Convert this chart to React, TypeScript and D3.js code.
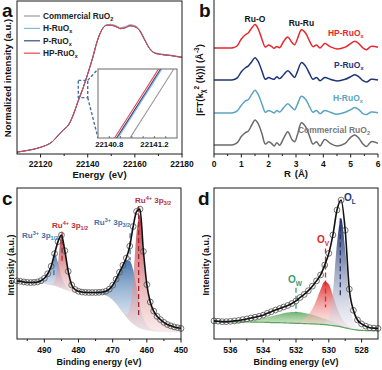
import React from 'react'
import * as d3 from 'd3'

const FONT = '"Liberation Sans", Arial, Helvetica, sans-serif'

// ---------- (a) Ru K-edge XANES ----------
const xanesE = [22110, 22115, 22120, 22125, 22128, 22130, 22132, 22134, 22136, 22138, 22140, 22142, 22144, 22146, 22148, 22150, 22152, 22154, 22156, 22158, 22160, 22162, 22164, 22166, 22168, 22170, 22175, 22180]
const xanesCommercial = [0.02, 0.04, 0.07, 0.128, 0.207, 0.257, 0.306, 0.411, 0.551, 0.681, 0.8297, 0.989, 1.17, 1.296, 1.352, 1.356, 1.342, 1.322, 1.332, 1.352, 1.342, 1.302, 1.21, 1.118, 1.066, 1.05, 1.035, 1.014]
const xanesH = [0.02, 0.04, 0.07, 0.13, 0.21, 0.26, 0.31, 0.418, 0.558, 0.6878, 0.8377, 0.9975, 1.1778, 1.2992, 1.347, 1.347, 1.332, 1.312, 1.322, 1.342, 1.332, 1.292, 1.202, 1.112, 1.062, 1.046, 1.031, 1.011]
const xanesP = [0.02, 0.04, 0.07, 0.13, 0.21, 0.26, 0.31, 0.419, 0.559, 0.6887, 0.8386, 0.9985, 1.1786, 1.2995, 1.346, 1.346, 1.331, 1.311, 1.321, 1.341, 1.331, 1.29, 1.2, 1.11, 1.06, 1.045, 1.03, 1.01]
const xanesHP = [0.02, 0.04, 0.07, 0.13, 0.21, 0.26, 0.31, 0.42, 0.56, 0.69, 0.84, 1.0, 1.18, 1.3, 1.345, 1.345, 1.33, 1.31, 1.32, 1.34, 1.33, 1.29, 1.2, 1.11, 1.06, 1.045, 1.03, 1.01]
const xanesTicks = [22120, 22140, 22160, 22180]
const xanesMinor = [22130, 22150, 22170]
const insetTicks = [22140.8, 22141.2]
const insetDomainE = [22140.7, 22141.4]
const insetDomainI = [0.906, 0.937]
const zoomBoxE = [22136, 22140]
const zoomBoxI = [0.59, 0.77]

// ---------- (b) EXAFS R space ----------
const exafsR = [0, 0.4, 0.7, 0.85, 1.0, 1.15, 1.25, 1.38, 1.5, 1.62, 1.75, 1.88, 2.0, 2.1, 2.2, 2.3, 2.4, 2.55, 2.7, 2.85, 2.95, 3.05, 3.2, 3.35, 3.5, 3.62, 3.75, 3.88, 4.05, 4.25, 4.5, 4.8, 5.0, 5.15, 5.3, 5.45, 5.58, 5.75, 6.0]
const ftCommercial = [0.1, 0.1, 0.11, 0.2, 0.46, 0.63, 0.69, 0.96, 1.18, 1.01, 0.6, 0.14, 0.24, 0.17, 0.06, 0.2, 0.09, 0.39, 0.67, 0.34, 0.24, 0.53, 1.06, 0.89, 0.46, 0.14, 0.24, 0.06, 0.34, 0.17, 0.06, 0.17, 0.43, 0.53, 0.39, 0.14, 0.03, 0.24, 0.17]
const ftH = [0.1, 0.1, 0.11, 0.19, 0.43, 0.62, 0.67, 0.9, 1.08, 0.89, 0.5, 0.13, 0.21, 0.16, 0.1, 0.21, 0.14, 0.33, 0.5, 0.33, 0.24, 0.47, 0.82, 0.69, 0.36, 0.13, 0.21, 0.07, 0.21, 0.13, 0.04, 0.13, 0.24, 0.33, 0.24, 0.07, 0.03, 0.14, 0.11]
const ftP = [0.1, 0.1, 0.11, 0.19, 0.46, 0.63, 0.7, 0.89, 1.06, 0.89, 0.5, 0.13, 0.21, 0.16, 0.13, 0.24, 0.16, 0.33, 0.5, 0.33, 0.21, 0.46, 0.85, 0.7, 0.36, 0.13, 0.21, 0.07, 0.21, 0.13, 0.06, 0.13, 0.24, 0.33, 0.24, 0.07, 0.01, 0.13, 0.1]
const ftHP = [0.1, 0.1, 0.11, 0.2, 0.49, 0.67, 0.75, 0.96, 1.11, 0.92, 0.49, 0.14, 0.23, 0.17, 0.09, 0.16, 0.11, 0.39, 0.57, 0.34, 0.24, 0.49, 0.89, 0.75, 0.39, 0.16, 0.23, 0.1, 0.29, 0.16, 0.06, 0.14, 0.29, 0.39, 0.29, 0.1, 0.03, 0.17, 0.13]
const ftOffsets = [0, 1.38, 2.8, 4.18]
const rTicks = [0, 1, 2, 3, 4, 5, 6]
const rMinor = [0.5, 1.5, 2.5, 3.5, 4.5, 5.5]

// ---------- (c) Ru 3p XPS, 1 eV steps from 498 eV ----------
const cStart = 498
const cCounts = [38.5, 38.2, 37.8, 37.5, 37.4, 37.5, 37.8, 38.6, 40.2, 43.2, 48.2, 56.5, 64.5, 68.8, 58.5, 44.8, 35.8, 32.8, 31.6, 31.1, 30.9, 30.8, 30.8, 30.8, 30.9, 31.1, 31.6, 33.0, 35.6, 39.6, 44.2, 48.8, 53.6, 61.5, 74.5, 84.5, 86.0, 58.0, 36.0, 24.5, 18.5, 15.0, 12.8, 11.0, 9.6, 8.7, 8.0, 7.5, 7.0]
const cBackground = [37.8, 37.6, 37.4, 37.2, 37.0, 36.9, 36.8, 36.6, 36.4, 36.1, 35.7, 35.2, 34.5, 33.6, 32.7, 31.9, 31.3, 30.9, 30.7, 30.5, 30.4, 30.3, 30.2, 30.1, 29.9, 29.5, 28.8, 27.6, 25.8, 23.4, 20.6, 17.6, 14.6, 12.0, 9.9, 8.3, 7.1, 6.3, 5.8, 5.4, 5.2, 5.0, 4.8, 4.7, 4.6, 4.5, 4.5, 4.4, 4.4]
const ru3p12 = { from: 494, h: [0.3, 0.8, 1.5, 2.6, 4.2, 7.5, 12.5, 21.5, 16, 8, 3.5, 1.2, 0.4, 0.1, 0] }
const ru4p12 = { from: 489, h: [0, 0.5, 3, 16, 35, 26, 13, 4.5, 1.8, 0.7, 0.3, 0.1, 0] }
const ru3p32 = { from: 476, h: [0, 0.4, 0.9, 1.6, 2.8, 5.4, 9.8, 16, 23.5, 31, 37.5, 39.7, 36, 26, 15, 7.5, 3.4, 1.5, 0.7, 0.3, 0.1, 0] }
const ru4p32 = { from: 469, h: [0, 0.3, 0.8, 1.5, 8, 30, 62, 75, 48, 28, 18, 13, 10, 8, 6.3, 5, 4.2, 3.5, 3.0, 2.6] }
const cTicks = [490, 480, 470, 460, 450]
const cMinor = [495, 485, 475, 465, 455]
const cMarkers = [
  { e: 487.2, top: 45.5, bottom: 41, color: '#3f73ad' },
  { e: 484.8, top: 71, bottom: 51, color: '#b8303a' },
  { e: 464.9, top: 70, bottom: 52, color: '#3f73ad' },
  { e: 462.4, top: 88, bottom: 14, color: '#a8222c' },
]

// ---------- (d) O 1s XPS, 0.25 eV steps from 537 eV ----------
const dStart = 537
const dCounts = [12.0, 11.8, 11.5, 11.5, 11.7, 12.0, 12.3, 12.8, 13.3, 13.9, 14.4, 15.0, 15.8, 17.0, 18.1, 19.2, 20.2, 21.2, 22.2, 23.5, 25.2, 27.5, 29.5, 32.0, 35.0, 38.5, 42.4, 49.0, 56.7, 68.9, 85.4, 92.0, 72.0, 33.0, 19.0, 12.6, 10.0, 8.5, 7.5, 7.2, 7.0]
const dBackground = [11.5, 11.5, 11.4, 11.4, 11.4, 11.4, 11.3, 11.3, 11.3, 11.2, 11.2, 11.1, 11.1, 11.0, 10.9, 10.9, 10.8, 10.7, 10.6, 10.5, 10.4, 10.3, 10.2, 10.1, 10.0, 9.9, 9.7, 9.5, 9.2, 8.9, 8.5, 8.0, 7.4, 6.8, 6.3, 5.9, 5.7, 5.6, 5.5, 5.5, 5.5]
const oW = { from: 536, h: [0, 0.1, 0.3, 0.5, 0.8, 1.1, 1.6, 2.1, 2.7, 3.4, 4.1, 4.9, 5.6, 6.3, 6.9, 7.3, 7.5, 7.4, 7.1, 6.6, 6.0, 5.3, 4.6, 3.9, 3.2, 2.5, 1.9, 1.4, 1.0, 0.7, 0.4, 0.3, 0.2, 0.1, 0] }
const oV = { from: 532.75, h: [0, 0.2, 0.4, 0.8, 1.5, 3, 6, 10, 16, 23, 28.5, 27, 20, 12, 6.5, 3.3, 1.6, 0.8, 0.4, 0.2, 0] }
const oL = { from: 530.75, h: [0, 0.5, 1.5, 5, 22, 55, 72, 52, 20, 6, 2, 0.8, 0.3, 0.1, 0] }
const dTicks = [536, 534, 532, 530, 528]
const dMinor = [535, 533, 531, 529]
const dMarkers = [
  { e: 529.3, top: 80, bottom: 29, color: '#23367a' },
  { e: 530.2, top: 60, bottom: 21, color: '#e0262b' },
  { e: 532.0, top: 34, bottom: 17, color: '#3c9c72' },
]

const AX = '#1a1a1a'

function BottomTicks({ scale, y, major, minor, fmt, fs = 8.5, labelY }: any) {
  return (
    <g>
      {minor.map((v: number) => (
        <line key={'m' + v} x1={scale(v)} x2={scale(v)} y1={y} y2={y + 2} stroke={AX} strokeWidth={1} />
      ))}
      {major.map((v: number) => (
        <g key={v}>
          <line x1={scale(v)} x2={scale(v)} y1={y} y2={y + 3.5} stroke={AX} strokeWidth={1} />
          <text x={scale(v)} y={labelY} textAnchor="middle" fontSize={fs} fontWeight="bold" fill="#111">
            {fmt(v)}
          </text>
        </g>
      ))}
    </g>
  )
}

function PanelA() {
  const x = d3.scaleLinear().domain([22110, 22180]).range([17, 182])
  const y = d3.scaleLinear().domain([0, 1.6]).range([154, 1])
  const ix = d3.scaleLinear().domain(insetDomainE).range([98, 177])
  const iy = d3.scaleLinear().domain(insetDomainI).range([138, 69])
  const series = [
    { name: 'Commercial RuO', sub: '2', values: xanesCommercial, color: '#9c9c9c' },
    { name: 'H-RuO', sub: 'x', values: xanesH, color: '#84bbd4' },
    { name: 'P-RuO', sub: 'x', values: xanesP, color: '#34478a' },
    { name: 'HP-RuO', sub: 'x', values: xanesHP, color: '#e8474c' },
  ]
  const line = (sx: any, sy: any) =>
    d3.line<number>().x((_, i) => sx(xanesE[i])).y((d) => sy(d)).curve(d3.curveMonotoneX)
  const boxX0 = x(zoomBoxE[0]), boxX1 = x(zoomBoxE[1])
  const boxY0 = y(zoomBoxI[1]), boxY1 = y(zoomBoxI[0])
  const [ix0, ix1] = ix.range()
  const [iy1, iy0] = iy.range()
  return (
    <g>
      <defs>
        <clipPath id="insetClip">
          <rect x={ix0} y={iy0} width={ix1 - ix0} height={iy1 - iy0} />
        </clipPath>
        <clipPath id="aClip">
          <rect x={17} y={1} width={165} height={153} />
        </clipPath>
      </defs>
      <g clipPath="url(#aClip)">
        {series.map((s) => (
          <path key={s.name} d={line(x, y)(s.values) || ''} fill="none" stroke={s.color} strokeWidth={1} />
        ))}
      </g>
      <rect x={17} y={1} width={165} height={153} fill="none" stroke={AX} strokeWidth={1} />
      <BottomTicks scale={x} y={154} major={xanesTicks} minor={xanesMinor} fmt={(v: number) => v} fs={8.5} labelY={167} />
      {/* zoom box and connectors */}
      <rect x={boxX0} y={boxY0} width={boxX1 - boxX0} height={boxY1 - boxY0} fill="none" stroke="#4a6fa8" strokeWidth={1.4} strokeDasharray="3,2" />
      <line x1={boxX1} y1={boxY0} x2={ix0} y2={iy0} stroke="#4a6fa8" strokeWidth={1.4} strokeDasharray="3,2" />
      <line x1={boxX1} y1={boxY1} x2={ix0} y2={iy1} stroke="#4a6fa8" strokeWidth={1.4} strokeDasharray="3,2" />
      {/* inset */}
      <rect x={ix0} y={iy0} width={ix1 - ix0} height={iy1 - iy0} fill="#fff" stroke="#6b6b6b" strokeWidth={1} />
      <g clipPath="url(#insetClip)">
        {series.map((s) => (
          <path key={s.name} d={line(ix, iy)(s.values) || ''} fill="none" stroke={s.color} strokeWidth={1.1} />
        ))}
      </g>
      {d3.range(22140.8, 22141.35, 0.1).map((v) => (
        <line key={v} x1={ix(v)} x2={ix(v)} y1={iy1} y2={iy1 - 2} stroke="#555" strokeWidth={0.8} />
      ))}
      {insetTicks.map((v) => (
        <text key={v} x={ix(v)} y={147} textAnchor="middle" fontSize={7.8} fontWeight="bold" fill="#111">
          {v.toFixed(1)}
        </text>
      ))}
      {/* legend */}
      {series.map((s, i) => (
        <g key={s.name} transform={`translate(0,${16 + i * 12.4})`}>
          <line x1={24} x2={40} y1={0} y2={0} stroke={s.color} strokeWidth={1.2} />
          <text x={43} y={3} fontSize={8.3} fontWeight="bold" fill="#222">
            {s.name}
            <tspan dy={2} fontSize={5.5}>{s.sub}</tspan>
          </text>
        </g>
      ))}
      <text x={2} y={17} fontSize={19} fontWeight="bold" fill="#111">a</text>
      <text transform="translate(11,78) rotate(-90)" textAnchor="middle" fontSize={9.5} fontWeight="bold" fill="#111">
        Normalized intensity (a.u.)
      </text>
      <text x={99.5} y={178} textAnchor="middle" fontSize={9.5} fontWeight="bold" fill="#111">
        Energy<tspan dx={4}>(eV)</tspan>
      </text>
    </g>
  )
}

function PanelB() {
  const x = d3.scaleLinear().domain([0, 6]).range([214, 378])
  const y = d3.scaleLinear().domain([-0.29, 6.35]).range([154, 0])
  const series = [
    { name: 'Commercial RuO', sub: '2', values: ftCommercial, color: '#6b6b6b', label: '#7a7a7a', lx: 3.07 },
    { name: 'H-RuO', sub: 'x', values: ftH, color: '#5aa4c4', label: '#5aa4c4', lx: 4.35 },
    { name: 'P-RuO', sub: 'x', values: ftP, color: '#1f3579', label: '#1f3579', lx: 4.39 },
    { name: 'HP-RuO', sub: 'x', values: ftHP, color: '#e8262b', label: '#e8262b', lx: 4.17 },
  ]
  return (
    <g>
      {series.map((s, k) => {
        const line = d3
          .line<number>()
          .x((_, i) => x(exafsR[i]))
          .y((d) => y(d + ftOffsets[k]))
          .curve(d3.curveCatmullRom.alpha(0.5))
        return (
          <g key={s.name}>
            <path d={line(s.values) || ''} fill="none" stroke={s.color} strokeWidth={1.5} />
            <text x={x(s.lx)} y={y(ftOffsets[k] + 0.6)} fontSize={8.5} fontWeight="bold" fill={s.label}>
              {s.name}
              <tspan dy={2} fontSize={5.5}>{s.sub}</tspan>
            </text>
          </g>
        )
      })}
      <line x1={214} x2={214} y1={0} y2={154} stroke={AX} strokeWidth={1} />
      <line x1={214} x2={378} y1={154} y2={154} stroke={AX} strokeWidth={1} />
      <BottomTicks scale={x} y={154} major={rTicks} minor={rMinor} fmt={(v: number) => v} fs={8.5} labelY={167} />
      <text x={x(1.5)} y={y(5.4)} textAnchor="middle" fontSize={8.5} fontWeight="bold" fill="#111">Ru-O</text>
      <text x={x(3.2)} y={y(5.23)} textAnchor="middle" fontSize={8.5} fontWeight="bold" fill="#111">Ru-Ru</text>
      <text x={199} y={17} fontSize={19} fontWeight="bold" fill="#111">b</text>
      <text transform="translate(203,80) rotate(-90)" textAnchor="middle" fontSize={9.5} fontWeight="bold" fill="#111">
        |FT(k<tspan dy={2} fontSize={6.5}>χ</tspan><tspan dy={-6} fontSize={6.5}>2</tspan><tspan dy={4}> (k))| (Å</tspan>
        <tspan dy={-4} fontSize={6.5}>-3</tspan><tspan dy={4}>)</tspan>
      </text>
      <text x={296} y={177} textAnchor="middle" fontSize={9.5} fontWeight="bold" fill="#111">
        R<tspan dx={4}>(Å)</tspan>
      </text>
    </g>
  )
}

function XpsComponents({ x, y, comps, bgAt, step }: any) {
  return comps.map((c: any) => {
    const pts = c.h.map((h: number, i: number) => {
      const e = c.from - i * step
      return { e, b: bgAt(e), h }
    })
    const area = d3
      .area<any>()
      .x((p) => x(p.e))
      .y0((p) => y(p.b))
      .y1((p) => y(p.b + p.h))
      .curve(d3.curveMonotoneX)
    return <path key={c.id} d={area(pts) || ''} fill={`url(#${c.grad})`} stroke="none" />
  })
}

function PanelC() {
  const x = d3.scaleLinear().domain([498, 450]).range([17, 181])
  const y = d3.scaleLinear().domain([0, 100]).range([339, 188])
  const energies = cCounts.map((_, i) => cStart - i)
  const bgAt = (e: number) => cBackground[Math.round(cStart - e)]
  const fit = d3.line<number>().x((_, i) => x(energies[i])).y((d) => y(d)).curve(d3.curveMonotoneX)
  const comps = [
    { id: 'b12', ...ru3p12, grad: 'gBlueC' },
    { id: 'r12', ...ru4p12, grad: 'gRedC' },
    { id: 'b32', ...ru3p32, grad: 'gBlueC' },
    { id: 'r32', ...ru4p32, grad: 'gRedC' },
  ]
  return (
    <g>
      <XpsComponents x={x} y={y} comps={comps} bgAt={bgAt} step={1} />
      {cMarkers.map((m, i) => (
        <line key={i} x1={x(m.e)} x2={x(m.e)} y1={y(m.top)} y2={y(m.bottom)} stroke={m.color} strokeWidth={1.3} strokeDasharray="5,3" />
      ))}
      {cCounts.map((d, i) => (
        <circle key={i} cx={x(energies[i])} cy={y(d)} r={2.9} fill="none" stroke="#5a5a5a" strokeWidth={0.85} />
      ))}
      <path d={fit(cCounts) || ''} fill="none" stroke="#111" strokeWidth={1.6} />
      <rect x={17} y={188} width={164} height={151} fill="none" stroke={AX} strokeWidth={1} />
      <BottomTicks scale={x} y={339} major={cTicks} minor={cMinor} fmt={(v: number) => v} fs={8.5} labelY={353} />
      <text x={22} y={238} fontSize={8} fontWeight="bold" fill="#3f73ad">
        Ru<tspan dy={-3} fontSize={5.5}>3+</tspan><tspan dy={3}> 3p</tspan><tspan dy={2} fontSize={5.5}>1/2</tspan>
      </text>
      <text x={52} y={228} fontSize={8} fontWeight="bold" fill="#b8303a">
        Ru<tspan dy={-3} fontSize={5.5}>4+</tspan><tspan dy={3}> 3p</tspan><tspan dy={2} fontSize={5.5}>1/2</tspan>
      </text>
      <text x={94} y={225} fontSize={8} fontWeight="bold" fill="#3f73ad">
        Ru<tspan dy={-3} fontSize={5.5}>3+</tspan><tspan dy={3}> 3p</tspan><tspan dy={2} fontSize={5.5}>3/2</tspan>
      </text>
      <text x={135} y={203} fontSize={8} fontWeight="bold" fill="#b8303a">
        Ru<tspan dy={-3} fontSize={5.5}>4+</tspan><tspan dy={3}> 3p</tspan><tspan dy={2} fontSize={5.5}>3/2</tspan>
      </text>
      <text x={2} y={205} fontSize={19} fontWeight="bold" fill="#111">c</text>
      <text transform="translate(14,265) rotate(-90)" textAnchor="middle" fontSize={9} fontWeight="bold" fill="#111">
        Intensity (a.u.)
      </text>
      <text x={99} y={365} textAnchor="middle" fontSize={9} fontWeight="bold" fill="#111">
        Binding energy (eV)
      </text>
    </g>
  )
}

function PanelD() {
  const x = d3.scaleLinear().domain([537, 527]).range([214, 378])
  const y = d3.scaleLinear().domain([0, 100]).range([339, 188])
  const energies = dCounts.map((_, i) => dStart - i * 0.25)
  const bgAt = (e: number) => dBackground[Math.round((dStart - e) / 0.25)]
  const line = d3.line<number>().x((_, i) => x(energies[i])).y((d) => y(d)).curve(d3.curveMonotoneX)
  const comps = [
    { id: 'w', ...oW, grad: 'gGreenD' },
    { id: 'v', ...oV, grad: 'gRedD' },
    { id: 'l', ...oL, grad: 'gNavyD' },
  ]
  return (
    <g>
      <XpsComponents x={x} y={y} comps={comps} bgAt={bgAt} step={0.25} />
      <path d={line(dBackground) || ''} fill="none" stroke="#5aa35f" strokeWidth={1.2} />
      {dMarkers.map((m, i) => (
        <line key={i} x1={x(m.e)} x2={x(m.e)} y1={y(m.top)} y2={y(m.bottom)} stroke={m.color} strokeWidth={1.3} strokeDasharray="5,3" />
      ))}
      {dCounts.map((d, i) => (
        <circle key={i} cx={x(energies[i])} cy={y(d)} r={2.9} fill="none" stroke="#5a5a5a" strokeWidth={0.85} />
      ))}
      <path d={line(dCounts) || ''} fill="none" stroke="#111" strokeWidth={1.6} />
      <rect x={214} y={188} width={164} height={151} fill="none" stroke={AX} strokeWidth={1} />
      <BottomTicks scale={x} y={339} major={dTicks} minor={dMinor} fmt={(v: number) => v} fs={8.5} labelY={353} />
      <text x={344} y={201} fontSize={10} fontWeight="bold" fill="#23367a">
        O<tspan dy={2.5} fontSize={6.5}>L</tspan>
      </text>
      <text x={317} y={243} fontSize={10} fontWeight="bold" fill="#e0262b">
        O<tspan dy={2.5} fontSize={6.5}>V</tspan>
      </text>
      <text x={288} y={283} fontSize={10} fontWeight="bold" fill="#3c9c72">
        O<tspan dy={2.5} fontSize={6.5}>W</tspan>
      </text>
      <text x={198} y={205} fontSize={19} fontWeight="bold" fill="#111">d</text>
      <text transform="translate(209,265) rotate(-90)" textAnchor="middle" fontSize={9} fontWeight="bold" fill="#111">
        Intensity (a.u.)
      </text>
      <text x={296} y={365} textAnchor="middle" fontSize={9} fontWeight="bold" fill="#111">
        Binding energy (eV)
      </text>
    </g>
  )
}

export default function App() {
  return (
    <svg width={382} height={370} style={{ position: 'absolute', left: 0, top: 0, background: '#fff' }} fontFamily={FONT}>
      <defs>
        <linearGradient id="gRedC" x1="0" y1="0" x2="0" y2="1">
          <stop offset="0%" stopColor="#b8303a" stopOpacity={0.95} />
          <stop offset="100%" stopColor="#f4cfcf" stopOpacity={0.45} />
        </linearGradient>
        <linearGradient id="gBlueC" x1="0" y1="0" x2="0" y2="1">
          <stop offset="0%" stopColor="#3d6ea8" stopOpacity={0.95} />
          <stop offset="100%" stopColor="#d4e3f2" stopOpacity={0.45} />
        </linearGradient>
        <linearGradient id="gNavyD" x1="0" y1="0" x2="0" y2="1">
          <stop offset="0%" stopColor="#1c2d68" stopOpacity={1} />
          <stop offset="100%" stopColor="#e8ebf4" stopOpacity={0.4} />
        </linearGradient>
        <linearGradient id="gRedD" x1="0" y1="0" x2="0" y2="1">
          <stop offset="0%" stopColor="#e02a2a" stopOpacity={0.95} />
          <stop offset="100%" stopColor="#fde3e3" stopOpacity={0.4} />
        </linearGradient>
        <linearGradient id="gGreenD" x1="0" y1="0" x2="0" y2="1">
          <stop offset="0%" stopColor="#5fab63" stopOpacity={0.9} />
          <stop offset="100%" stopColor="#eef4d6" stopOpacity={0.6} />
        </linearGradient>
      </defs>
      <PanelA />
      <PanelB />
      <PanelC />
      <PanelD />
    </svg>
  )
}
